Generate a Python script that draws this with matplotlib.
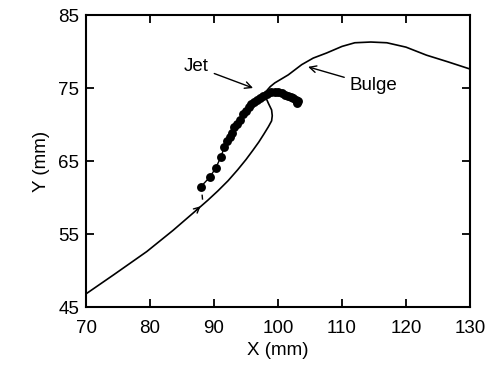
import matplotlib
matplotlib.use("Agg")
import matplotlib.pyplot as plt

plt.rcParams['font.family'] = ['Liberation Sans', 'DejaVu Sans']

# Boundary curve (mm)
curve_x = [70, 74.3, 79.5, 83.6, 87.3, 89.0, 90.6, 92.2, 93.7, 95.0, 96.1, 97.0, 97.8,
           98.5, 99.0, 99.1, 99.0, 98.5, 98.2, 98.15, 98.3, 98.8, 99.5, 101.6, 103.7,
           105.5, 107.6, 110.0, 112.0, 114.5, 117.0, 120.0, 123.2, 126.5, 130.0]
curve_y = [46.8, 49.4, 52.6, 55.5, 58.3, 59.6, 60.9, 62.3, 63.8, 65.2, 66.5, 67.6, 68.7,
           69.7, 70.5, 71.2, 72.0, 72.9, 73.5, 74.1, 74.7, 75.2, 75.7, 76.8, 78.2,
           79.1, 79.8, 80.7, 81.2, 81.3, 81.2, 80.6, 79.5, 78.6, 77.6]

# Jet trajectory points (mm)
jet_x = [87.97, 89.4, 90.3, 91.1, 91.6, 92.1, 92.5, 92.8, 93.2, 93.6, 94.0, 94.6, 95.0,
         95.4, 95.8, 96.25, 96.7, 97.2, 97.7, 98.3, 98.9, 99.5, 100.0, 100.6, 101.1,
         101.6, 102.0, 102.4, 102.8, 102.9, 103.1]
jet_y = [61.5, 62.85, 64.1, 65.6, 66.9, 67.8, 68.3, 68.8, 69.7, 70.1, 70.6, 71.4, 71.9,
         72.4, 72.8, 73.1, 73.4, 73.6, 73.9, 74.2, 74.4, 74.5, 74.4, 74.3, 74.1,
         73.9, 73.8, 73.6, 73.4, 72.9, 73.2]

x_ticks = [70, 80, 90, 100, 110, 120, 130]
y_ticks = [45, 55, 65, 75, 85]

fig = plt.figure(figsize=(4.96, 3.69), dpi=100)
ax = fig.add_axes([0.1734, 0.168, 0.7742, 0.7913])

ax.plot(curve_x, curve_y, color='black', lw=1.2)
ax.plot(jet_x, jet_y, color='black', lw=1.0, marker='o', markersize=6.4,
        markeredgewidth=0)
ax.plot([88.15, 88.2], [60.3, 59.8], color='black', lw=1.0)

# direction arrow on the curve
ax.annotate('', xy=(87.9, 58.8), xytext=(87.2, 58.25),
            arrowprops=dict(arrowstyle='->', color='black', lw=1.0,
                            mutation_scale=10, shrinkA=0, shrinkB=0))

ax.annotate('Jet', xy=(96.1, 75.0), xytext=(89.2, 77.9),
            ha='right', va='center', fontsize=13.5,
            arrowprops=dict(arrowstyle='->', color='black', lw=1.0,
                            mutation_scale=12, shrinkA=2, shrinkB=0))
ax.annotate('Bulge', xy=(104.7, 77.9), xytext=(111.2, 75.3),
            ha='left', va='center', fontsize=13.5,
            arrowprops=dict(arrowstyle='->', color='black', lw=1.0,
                            mutation_scale=12, shrinkA=2, shrinkB=0))

ax.set_xlim(70, 130)
ax.set_ylim(45, 85)
ax.set_xticks(x_ticks)
ax.set_yticks(y_ticks)
ax.tick_params(direction='in', length=6, width=1.3, top=True, right=True,
               labelsize=13.5)
ax.tick_params(axis='x', pad=9)
ax.tick_params(axis='y', pad=5)
for s in ax.spines.values():
    s.set_linewidth(1.5)
ax.set_xlabel('X (mm)', fontsize=13.5, labelpad=4)
ax.set_ylabel('Y (mm)', fontsize=13.5, labelpad=6)

fig.savefig('out.png', dpi=100)
